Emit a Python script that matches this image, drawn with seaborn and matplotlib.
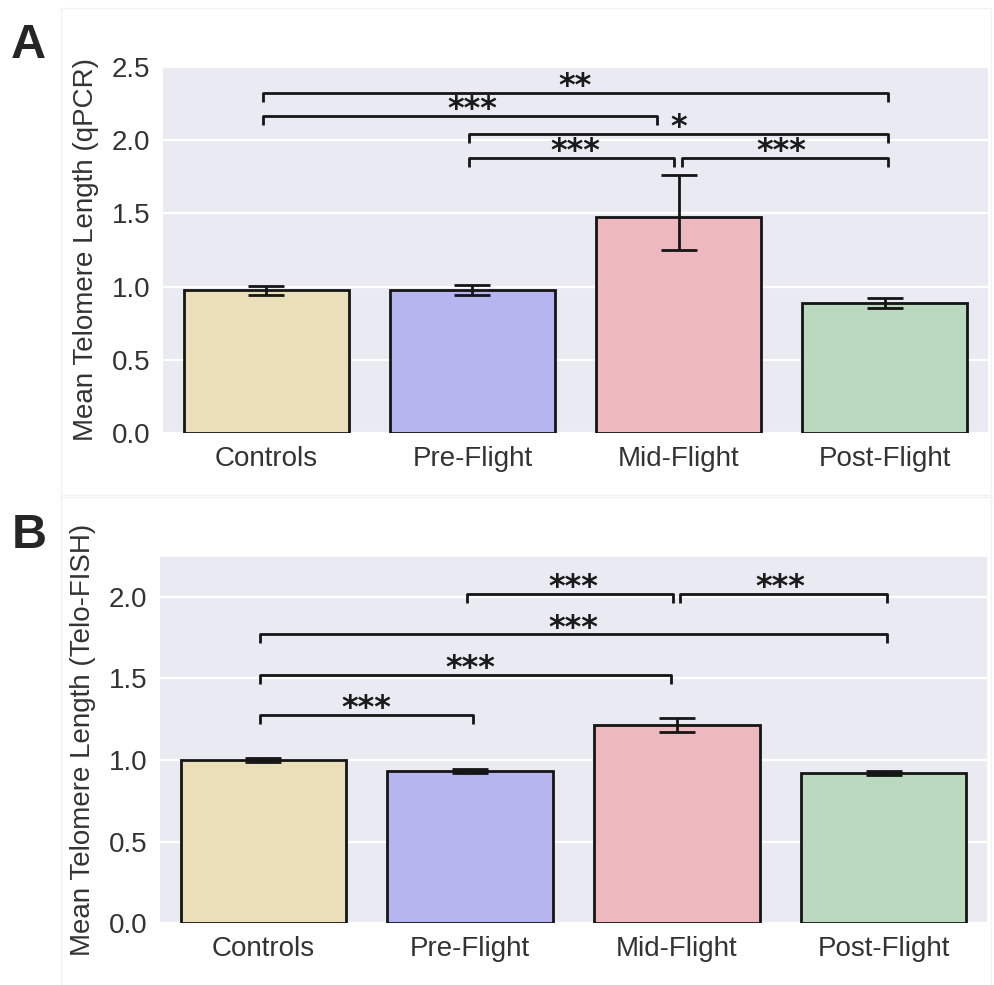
import matplotlib
matplotlib.use("Agg")
import matplotlib.pyplot as plt
from matplotlib.patches import Rectangle
import seaborn as sns

# ---- data -------------------------------------------------------------
groups = ["Controls", "Pre-Flight", "Mid-Flight", "Post-Flight"]
bar_colors = ["#EBDFBA", "#B5B6F0", "#EDB9BE", "#BAD9BE"]

# panel A: qPCR
qpcr_mean = [0.975, 0.975, 1.475, 0.888]
qpcr_err_low = [0.030, 0.035, 0.225, 0.035]
qpcr_err_high = [0.030, 0.035, 0.290, 0.035]

# panel B: Telo-FISH
fish_mean = [1.000, 0.933, 1.215, 0.920]
fish_err_low = [0.010, 0.012, 0.045, 0.010]
fish_err_high = [0.010, 0.012, 0.045, 0.010]

# significance brackets: (group i, group j, bracket height, stars)
qpcr_sig = [(0, 3, 2.32, "**"), (0, 2, 2.165, "***"), (1, 3, 2.04, "*"),
            (1, 2, 1.88, "***"), (2, 3, 1.88, "***")]
fish_sig = [(1, 2, 2.02, "***"), (2, 3, 2.02, "***"), (0, 3, 1.77, "***"),
            (0, 2, 1.52, "***"), (0, 1, 1.276, "***")]

# ---- style ------------------------------------------------------------
sns.set_theme(style="darkgrid")
plt.rcParams["font.family"] = ["Liberation Sans", "DejaVu Sans"]
plt.rcParams["axes.facecolor"] = "#EAEAF2"
plt.rcParams["grid.color"] = "white"
plt.rcParams["grid.linewidth"] = 1.6

fig = plt.figure(figsize=(9.95, 9.85), dpi=100)

# faint panel frames
for (x0, y0, w, h) in [(0.061, 0.495, 0.935, 0.497), (0.061, 0.0, 0.935, 0.497)]:
    fig.patches.append(Rectangle((x0, y0), w, h, transform=fig.transFigure,
                                 fill=False, edgecolor="#F2F2F2", lw=1.0))

ax_a = fig.add_axes([0.1638, 0.5604, 0.8291, 0.3716])
ax_b = fig.add_axes([0.1608, 0.0629, 0.8312, 0.3716])


def draw_panel(ax, means, err_lo, err_hi, ylim, yticks, ylabel, sig, tick_h, right_trim):
    sns.barplot(x=groups, y=means, hue=groups, palette=bar_colors, width=0.8,
                edgecolor="#151515", linewidth=2, errorbar=None, legend=False,
                saturation=1, ax=ax)
    ax.errorbar(range(len(groups)), means, yerr=[err_lo, err_hi], fmt="none",
                ecolor="#151515", elinewidth=2, capsize=13, capthick=2, zorder=5)
    ax.set_ylim(*ylim)
    ax.set_xlim(-0.5, len(groups) - 0.5)
    ax.set_yticks(yticks)
    ax.set_yticklabels([f"{t:.1f}" for t in yticks])
    ax.grid(axis="x", visible=False)
    ax.set_ylabel(ylabel, fontsize=20, color="#333333", labelpad=9)
    ax.set_xlabel("")
    ax.tick_params(axis="both", labelsize=20, colors="#333333", pad=9, length=0)
    for s in ax.spines.values():
        s.set_visible(False)

    for (i, j, y, stars) in sig:
        x1 = i - 0.015 if i != 2 else i + 0.015
        x2 = j + 0.015 if j != 2 else j - 0.02
        if (i, j) in right_trim:
            x2 = j - right_trim[(i, j)]
        ax.plot([x1, x1, x2, x2], [y - tick_h, y, y, y - tick_h],
                color="#151515", lw=2, solid_capstyle="butt", zorder=6)
        ax.annotate(stars, xy=((i + j) / 2, y), xytext=(0, -1.5),
                    textcoords="offset points", ha="center", va="baseline",
                    fontsize=23, fontweight="bold", family="DejaVu Sans",
                    color="#1a1a1a", zorder=7)


draw_panel(ax_a, qpcr_mean, qpcr_err_low, qpcr_err_high, (0, 2.5),
           [0.0, 0.5, 1.0, 1.5, 2.0, 2.5], "Mean Telomere Length (qPCR)",
           qpcr_sig, 0.06, {(0, 2): 0.105})
draw_panel(ax_b, fish_mean, fish_err_low, fish_err_high, (0, 2.245),
           [0.0, 0.5, 1.0, 1.5, 2.0], "Mean Telomere Length (Telo-FISH)",
           fish_sig, 0.055, {(0, 2): 0.03})

fig.text(0.028, 0.954, "A", fontsize=35, fontweight="bold", ha="center", va="center")
fig.text(0.029, 0.456, "B", fontsize=35, fontweight="bold", ha="center", va="center")

fig.savefig("out.png", dpi=100)
